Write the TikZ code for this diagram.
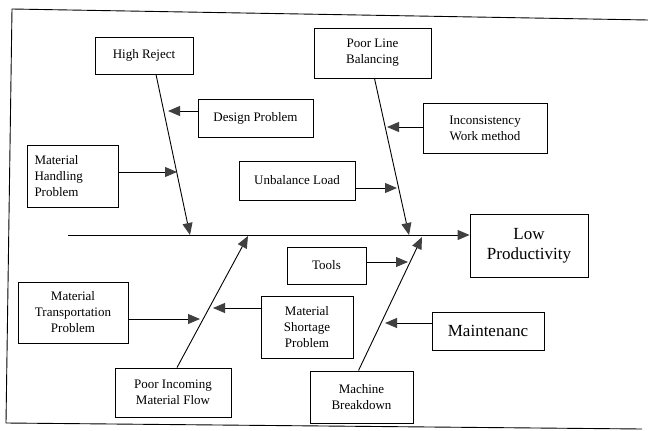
\documentclass[tikz,border=0pt]{standalone}
\usepackage{fontspec}
\setmainfont{Liberation Serif}
\usetikzlibrary{arrows.meta}

\tikzset{
  cause/.style={draw, line width=0.9pt, align=center, inner sep=2pt,
    font=\fontsize{13}{16}\selectfont},
  bigcause/.style={cause, font=\fontsize{17}{20}\selectfont},
  arr/.style={line width=0.9pt, -{Triangle[length=12pt,width=10pt,color=black!75]}}
}

\begin{document}
\begin{tikzpicture}[x=1pt,y=-1pt]
\useasboundingbox (0,0) rectangle (648,431);
% frame
\draw[line width=0.9pt] (648,20) -- (12,9) -- (6,423) -- (642,429);

% causes above the spine
\node[cause, minimum width=98, minimum height=37] (hr) at (144,55.5) {High Reject};
\node[cause, minimum width=115, minimum height=38] (dp) at (255.5,118) {Design Problem};
\node[cause, minimum width=91, minimum height=62, align=left, text width=76] (mh) at (72.5,176) {Material\\Handling\\Problem};
\node[cause, minimum width=116, minimum height=39] (ul) at (297,180.5) {Unbalance Load};
\node[cause, minimum width=117, minimum height=50] (plb) at (372.5,53) {Poor Line\\Balancing};
\node[cause, minimum width=124, minimum height=50] (iw) at (485,128) {Inconsistency\\Work method};

% effect
\node[bigcause, minimum width=118, minimum height=63] (lp) at (529,245.5) {Low\\Productivity};

% causes below the spine
\node[cause, minimum width=79, minimum height=37] (tl) at (326.5,265.5) {Tools};
\node[cause, minimum width=92, minimum height=62] (ms) at (307,327) {Material\\Shortage\\Problem};
\node[bigcause, minimum width=112, minimum height=38] (mn) at (488,331) {Maintenanc};
\node[cause, minimum width=103, minimum height=52] (mb) at (361.5,397) {Machine\\Breakdown};
\node[cause, minimum width=110, minimum height=61] (mt) at (73,312.5) {Material\\Transportation\\Problem};
\node[cause, minimum width=116, minimum height=49] (pim) at (173,392.5) {Poor Incoming\\Material Flow};

% spine
\coordinate (spL) at (68,235);
\draw[arr] (spL) -- (spL -| lp.west);

% main bones
\coordinate (hrTip) at (190,235);
\coordinate (plbTip) at (409,235);
\coordinate (pimTip) at (248,236);
\coordinate (mbTip) at (422,237);
\draw[arr] ([xshift=12pt]hr.south) -- (hrTip);
\draw[arr] ([xshift=2pt]plb.south) -- (plbTip);
\draw[arr] ([xshift=4pt]pim.north) -- (pimTip);
\draw[arr] ([xshift=-3pt]mb.north) -- (mbTip);

% small bones
\coordinate (dpTip) at (168,111);
\coordinate (mhTip) at (177,172);
\coordinate (ulTip) at (397,188);
\coordinate (iwTip) at (387,127);
\coordinate (tlTip) at (408,262);
\coordinate (msTip) at (213,308);
\coordinate (mtTip) at (200,319);
\coordinate (mnTip) at (385,323);
\draw[arr] (dp.west |- dpTip) -- (dpTip);
\draw[arr] (mh.east |- mhTip) -- (mhTip);
\draw[arr] (ul.east |- ulTip) -- (ulTip);
\draw[arr] (iw.west |- iwTip) -- (iwTip);
\draw[arr] (tl.east |- tlTip) -- (tlTip);
\draw[arr] (ms.west |- msTip) -- (msTip);
\draw[arr] (mt.east |- mtTip) -- (mtTip);
\draw[arr] (mn.west |- mnTip) -- (mnTip);
\end{tikzpicture}
\end{document}
